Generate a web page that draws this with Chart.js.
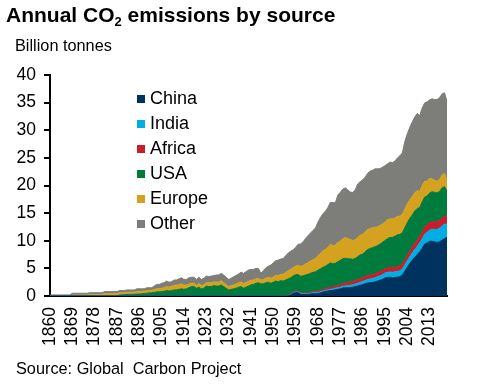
<!DOCTYPE html>
<html>
<head>
<meta charset="utf-8">
<script src="https://cdn.jsdelivr.net/npm/chart.js@4/dist/chart.umd.min.js"></script>
<style>
  html, body { margin: 0; padding: 0; background: #fff; }
  #wrap { position: relative; width: 479px; height: 385px; font-family: "Liberation Sans", Arial, sans-serif; color: #000; }
  #chart { position: absolute; left: 0; top: 0; }
  .txt { position: absolute; white-space: pre; }
  #title { left: 6px; top: 3px; font-size: 21px; font-weight: bold; }
  #title sub { font-size: 13px; vertical-align: -4px; line-height: 0; }
  #unit { left: 15px; top: 36px; font-size: 16.3px; }
  #source { left: 16px; top: 359px; font-size: 16.3px; }
</style>
</head>
<body>
<div id="wrap">
  <canvas id="chart" width="479" height="385"></canvas>
  <div class="txt" id="title">Annual CO<sub>2</sub> emissions by source</div>
  <div class="txt" id="unit">Billion tonnes</div>
  <div class="txt" id="source">Source: Global  Carbon Project</div>
</div>
<script>
// Years 1860 - 2020, one value per year (billion tonnes)
var firstYear = 1860, lastYear = 2020;
var years = [];
for (var y = firstYear; y <= lastYear; y++) years.push(String(y));

var shownYears = ['1860','1869','1878','1887','1896','1905','1914','1923','1932','1941','1950','1959','1968','1977','1986','1995','2004','2013'];

// each line is one decade, 1860s ... 2010s, then 2020
var china = [
  0,0,0,0,0,0,0,0,0,0,
  0,0,0,0,0,0,0,0,0,0,
  0,0,0,0,0,0,0,0,0,0,
  0,0,0,0,0,0,0,0,0,0,
  0,0,0,0,0,0,0,0,0,0,
  0,0,0,0,0,0,0,0,0,0,
  0,0,0,0,0,0,0,0,0,0,
  0,0,0,0,0,0,0,0,0,0,
  0,0,0,0,0,0,0,0,0,0,
  0,0,0,0,0,0,0,0.2,0.5,0.6,
  0.6,0.3,0.25,0.3,0.3,0.35,0.4,0.4,0.45,0.55,
  0.7,0.85,0.9,1.0,1.0,1.15,1.2,1.3,1.45,1.5,
  1.5,1.5,1.6,1.7,1.8,1.95,2.05,2.2,2.35,2.4,
  2.45,2.55,2.7,2.85,3.0,3.25,3.35,3.4,3.3,3.35,
  3.4,3.5,3.8,4.5,5.2,5.9,6.5,7.0,7.5,8.0,
  8.6,9.4,9.6,9.9,9.9,9.8,9.7,9.8,10.1,10.4,
  10.6
];

var india = [
  0,0,0,0,0,0,0,0,0,0,
  0,0,0,0,0,0,0,0,0,0,
  0,0,0,0,0,0,0,0,0,0,
  0,0,0,0,0,0,0,0,0,0,
  0,0,0,0,0,0,0,0,0,0,
  0,0,0,0,0,0,0,0,0,0,
  0,0,0,0,0,0,0,0,0,0,
  0,0,0,0,0,0,0,0,0,0,
  0,0,0,0,0,0,0,0,0,0,
  0,0,0,0,0,0,0,0.1,0.1,0.12,
  0.12,0.13,0.14,0.15,0.15,0.17,0.17,0.18,0.19,0.2,
  0.2,0.21,0.23,0.24,0.25,0.27,0.29,0.3,0.31,0.33,
  0.4,0.42,0.44,0.47,0.5,0.53,0.56,0.6,0.64,0.68,
  0.7,0.74,0.78,0.8,0.85,0.9,0.93,0.96,0.98,1.02,
  1.03,1.05,1.08,1.12,1.18,1.23,1.3,1.4,1.5,1.65,
  1.72,1.8,1.95,2.0,2.2,2.25,2.35,2.45,2.6,2.6,
  2.4
];

var africa = [
  0,0,0,0,0,0,0,0,0,0,
  0,0,0,0,0,0,0,0,0,0,
  0,0,0,0,0,0,0,0,0,0,
  0,0,0,0,0,0,0,0,0,0,
  0,0,0,0,0,0,0,0,0,0,
  0,0,0,0,0,0,0,0,0,0,
  0,0,0,0,0,0,0,0,0,0,
  0,0,0,0,0,0,0,0,0,0,
  0,0,0,0,0,0,0,0,0,0,
  0,0,0,0.08,0.1,0.1,0.12,0.12,0.13,0.14,
  0.15,0.15,0.16,0.17,0.18,0.2,0.21,0.22,0.24,0.26,
  0.3,0.32,0.35,0.37,0.38,0.4,0.43,0.46,0.48,0.5,
  0.55,0.6,0.6,0.62,0.64,0.66,0.68,0.7,0.71,0.72,
  0.72,0.73,0.74,0.75,0.77,0.79,0.8,0.82,0.83,0.84,
  0.86,0.88,0.9,0.94,1.0,1.03,1.05,1.1,1.15,1.15,
  1.2,1.3,1.33,1.35,1.38,1.4,1.42,1.45,1.47,1.48,
  1.35
];

var usa = [
  0,0,0,0,0,0,0,0,0,0,
  0,0,0,0,0,0,0,0,0,0,
  0,0,0,0,0,0,0,0,0.2,0.2,
  0.25,0.25,0.3,0.3,0.3,0.35,0.35,0.4,0.45,0.5,
  0.55,0.6,0.65,0.75,0.75,0.8,0.85,1.0,0.9,1.0,
  1.1,1.1,1.2,1.3,1.2,1.3,1.5,1.7,1.7,1.4,
  1.6,1.3,1.4,1.8,1.7,1.7,1.9,1.8,1.8,2.0,
  1.7,1.4,1.1,1.2,1.3,1.4,1.6,1.7,1.4,1.6,
  1.8,2.0,2.1,2.3,2.4,2.2,2.2,2.4,2.5,2.3,
  2.5,2.7,2.6,2.7,2.6,2.8,3.0,2.9,2.9,3.0,
  3.0,3.0,3.1,3.2,3.3,3.4,3.5,3.6,3.8,3.9,
  4.0,4.0,4.2,4.4,4.2,4.1,4.3,4.4,4.5,4.5,
  4.3,4.2,4.0,4.0,4.2,4.3,4.3,4.5,4.7,4.8,
  4.9,4.9,4.9,5.0,5.1,5.1,5.3,5.4,5.5,5.6,
  5.8,5.7,5.7,5.8,5.9,5.9,5.8,5.9,5.7,5.2,
  5.5,5.4,5.2,5.4,5.4,5.3,5.2,5.2,5.4,5.3,
  4.7
];

var europe = [
  0,0,0,0,0,0,0,0,0,0.2,
  0.2,0.2,0.2,0.2,0.2,0.2,0.3,0.3,0.3,0.3,
  0.3,0.3,0.45,0.45,0.45,0.45,0.45,0.45,0.4,0.4,
  0.4,0.4,0.4,0.4,0.4,0.45,0.45,0.45,0.45,0.45,
  0.45,0.45,0.5,0.55,0.6,0.6,0.65,0.7,0.7,0.75,
  0.85,0.85,0.9,0.9,0.75,0.7,0.65,0.6,0.6,0.55,
  0.65,0.6,0.65,0.6,0.7,0.7,0.65,0.75,0.75,0.75,
  0.7,0.65,0.6,0.65,0.7,0.75,0.8,0.85,0.85,0.85,
  0.85,0.85,0.8,0.8,0.75,0.7,0.75,0.85,0.9,0.9,
  0.95,1.05,1.1,1.15,1.25,1.35,1.45,1.5,1.5,1.55,
  1.7,1.75,1.85,2.0,2.1,2.2,2.3,2.4,2.6,2.8,
  3.0,3.05,3.15,3.35,3.3,3.25,3.45,3.5,3.6,3.75,
  3.65,3.5,3.4,3.4,3.45,3.55,3.55,3.6,3.6,3.6,
  3.6,3.5,3.4,3.35,3.3,3.35,3.45,3.35,3.35,3.3,
  3.3,3.35,3.3,3.4,3.4,3.35,3.35,3.3,3.2,2.95,
  3.0,2.85,2.75,2.65,2.3,2.2,2.1,2.2,2.3,2.4,
  1.9
];

var other = [
  0.2,0.2,0.2,0.2,0.2,0.2,0.2,0.2,0.2,0.3,
  0.3,0.3,0.3,0.3,0.3,0.3,0.3,0.3,0.3,0.3,
  0.3,0.3,0.35,0.35,0.35,0.35,0.35,0.35,0.4,0.4,
  0.35,0.45,0.4,0.4,0.4,0.5,0.5,0.45,0.4,0.55,
  0.5,0.45,0.65,0.8,0.75,0.9,0.9,1.0,0.9,0.85,
  0.95,0.95,1.0,1.1,1.05,1.0,1.15,1.1,1.1,1.05,
  1.15,1.1,1.15,1.2,1.1,1.2,1.15,1.25,1.25,1.35,
  1.4,1.35,1.3,1.35,1.5,1.55,1.6,1.75,1.85,1.95,
  2.05,1.95,1.9,1.9,1.85,1.2,1.65,1.85,2.0,2.4,
  2.55,2.65,2.8,2.75,2.85,3.05,3.2,3.3,3.25,3.4,
  3.8,4.1,4.3,4.6,4.9,5.1,5.3,5.5,6.1,6.5,
  6.7,6.9,7.2,7.6,7.8,7.7,8.6,8.8,9.0,9.0,
  8.8,8.6,8.7,9.0,9.7,9.7,9.9,9.9,10.2,10.4,
  10.4,10.6,10.5,10.3,10.3,10.2,10.1,10.3,10.2,10.3,
  10.6,10.9,11.1,12.2,12.7,13.1,13.5,13.7,14.0,13.7,
  14.0,14.2,14.3,14.2,14.5,14.6,14.8,14.8,14.7,14.6,
  14.3
];

var seriesNames = ['China', 'India', 'Africa', 'USA', 'Europe', 'Other'];
var seriesValues = [china, india, africa, usa, europe, other];
var seriesColors = ['#00325f', '#00aee3', '#c81e2b', '#007b3e', '#d4a21f', '#7d7d7a'];

var fontFamily = '"Liberation Sans", Arial, sans-serif';

// Legend drawn inside the plot area, top to bottom in stack order
var sideLegend = {
  id: 'sideLegend',
  afterDraw(chart) {
    var ctx = chart.ctx;
    ctx.save();
    ctx.font = '18px ' + fontFamily;
    ctx.textBaseline = 'middle';
    ctx.textAlign = 'left';
    seriesNames.forEach((name, i) => {
      var y = 99 + i * 25;
      ctx.fillStyle = seriesColors[i];
      ctx.fillRect(137, y - 4, 8, 8);
      ctx.fillStyle = '#000';
      ctx.fillText(name, 150, y);
    });
    ctx.restore();
  }
};

var datasets = seriesNames.map((name, i) => ({
  label: name,
  data: seriesValues[i],
  backgroundColor: seriesColors[i],
  borderColor: seriesColors[i],
  borderWidth: 1,
  pointRadius: 0,
  fill: i == 0 ? 'origin' : '-1',
  tension: 0
}));

var chartObj = new Chart(document.getElementById('chart'), {
  type: 'line',
  data: { labels: years, datasets: datasets },
  options: {
    responsive: false,
    animation: false,
    layout: { padding: { top: 75, right: 23, left: 0, bottom: 0 } },
    plugins: { legend: { display: false }, tooltip: { enabled: false } },
    scales: {
      x: {
        grid: { display: false, drawTicks: false },
        border: { color: '#000', width: 2 },
        ticks: {
          autoSkip: false,
          maxRotation: 90,
          minRotation: 90,
          padding: 11,
          color: '#000',
          font: { family: fontFamily, size: 17.5 },
          callback: function (value) {
            var label = this.getLabelForValue(value);
            return shownYears.includes(label) ? label : '';
          }
        },
        afterFit: (scale) => { scale.height = 89; }
      },
      y: {
        stacked: true,
        min: 0,
        max: 40,
        grid: { drawOnChartArea: false, drawTicks: true, tickLength: 6, lineWidth: 2, color: '#000' },
        border: { color: '#000', width: 2 },
        ticks: {
          stepSize: 5,
          padding: 8,
          color: '#000',
          font: { family: fontFamily, size: 17.5 }
        },
        afterFit: (scale) => { scale.width = 50; }
      }
    }
  },
  plugins: [sideLegend]
});
</script>
</body>
</html>
